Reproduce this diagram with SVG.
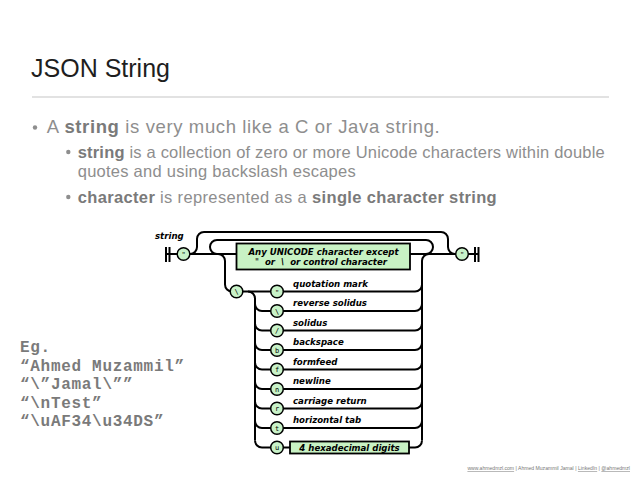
<svg xmlns="http://www.w3.org/2000/svg" width="638" height="479" viewBox="0 0 638 479">
<style>
.slide{font-family:"Liberation Sans",Arial,sans-serif;}
.title{font-size:25.5px;fill:#1e1e1e;}
.txt{font-size:16.5px;fill:#8e8e8e;}
.t1{font-size:18.5px;}
.b{font-weight:bold;fill:#7a7a7a;}
.dot{fill:#8e8e8e;}
.ex{font-family:"Liberation Mono","Courier New",monospace;font-weight:bold;font-size:16px;letter-spacing:0.7px;fill:#7a7a7a;}
.rr{fill:none;stroke:#000;stroke-width:2;stroke-linejoin:round;}
.bar{stroke:#000;stroke-width:2;}
.term{fill:#c8f2c8;stroke:#000;stroke-width:1.5;}
.box{fill:#c8f2c4;stroke:#000;stroke-width:1.8;}
.lbl{font-family:"DejaVu Sans",Verdana,sans-serif;font-weight:bold;font-style:italic;font-size:8.6px;fill:#000;}
.ch{font-family:"DejaVu Sans Mono",monospace;font-size:7px;fill:#000;text-anchor:middle;}
.foot{font-family:"Liberation Sans",Arial,sans-serif;font-size:5.1px;fill:#777;}
</style>

<g id="header" class="slide">
<text class="title" x="31" y="77" textLength="139" lengthAdjust="spacingAndGlyphs">JSON String</text>
<line x1="32" y1="97" x2="609" y2="97" stroke="#d9d9d9" stroke-width="1.5"/>
</g>

<g id="bullets" class="slide">
<circle class="dot" cx="35" cy="127.5" r="2.2"/>
<text class="txt t1" x="46.7" y="133" textLength="393" lengthAdjust="spacing">A <tspan class="b">string</tspan> is very much like a C or Java string.</text>
<circle class="dot" cx="68.3" cy="152" r="2.2"/>
<text class="txt" x="77.7" y="157.5" textLength="527" lengthAdjust="spacing"><tspan class="b">string</tspan> is a collection of zero or more Unicode characters within double</text>
<text class="txt" x="77.7" y="177" textLength="278" lengthAdjust="spacing">quotes and using backslash escapes</text>
<circle class="dot" cx="68.3" cy="197" r="2.2"/>
<text class="txt" x="77.7" y="202.5" textLength="419" lengthAdjust="spacing"><tspan class="b">character</tspan> is represented as a <tspan class="b">single character string</tspan></text>
</g>

<g id="examples">
<text class="ex" x="20" y="352">Eg.</text>
<text class="ex" x="20" y="370.5">“Ahmed Muzammil”</text>
<text class="ex" x="20" y="389">“\”Jamal\””</text>
<text class="ex" x="20" y="407.5">“\nTest”</text>
<text class="ex" x="20" y="426">“\uAF34\u34DS”</text>
</g>

<g id="connectors">
<line class="bar" x1="166" y1="247" x2="166" y2="262"/>
<line class="bar" x1="169.5" y1="247" x2="169.5" y2="262"/>
<line class="bar" x1="475" y1="247" x2="475" y2="262"/>
<line class="bar" x1="478.5" y1="247" x2="478.5" y2="262"/>
<path class="rr" d="M166 254 H178 M189 254 H237 M410 254 H456 M468 254 H478.5"/>
<path class="rr" d="M190 254 A7 7 0 0 0 197 247 V239 A7 7 0 0 1 204 232 H441 A7 7 0 0 1 448 239 V247 A7 7 0 0 0 455 254"/>
<path class="rr" d="M217 254 A7 7 0 0 1 210 247 A7 7 0 0 1 217 240 H426 A7 7 0 0 1 433 247 A7 7 0 0 1 426 254"/>
<path class="rr" d="M218 254 A7 7 0 0 1 225 261 V284.5 A7 7 0 0 0 232 291.5 H234"/>
<path class="rr" d="M243 291.5 H415 A7 7 0 0 0 422 284.5 V261 A7 7 0 0 1 429 254"/>
<path class="rr" d="M248 291.5 A7 7 0 0 1 255 298.5 V440.5"/>
<path class="rr" d="M422 440.5 V284.5"/>
<path class="rr" d="M255 304 A7 7 0 0 0 262 311 H415 A7 7 0 0 0 422 304"/>
<path class="rr" d="M255 323.5 A7 7 0 0 0 262 330.5 H415 A7 7 0 0 0 422 323.5"/>
<path class="rr" d="M255 343 A7 7 0 0 0 262 350 H415 A7 7 0 0 0 422 343"/>
<path class="rr" d="M255 362.5 A7 7 0 0 0 262 369.5 H415 A7 7 0 0 0 422 362.5"/>
<path class="rr" d="M255 382 A7 7 0 0 0 262 389 H415 A7 7 0 0 0 422 382"/>
<path class="rr" d="M255 401.5 A7 7 0 0 0 262 408.5 H415 A7 7 0 0 0 422 401.5"/>
<path class="rr" d="M255 421 A7 7 0 0 0 262 428 H415 A7 7 0 0 0 422 421"/>
<path class="rr" d="M255 440.5 A7 7 0 0 0 262 447.5 H415 A7 7 0 0 0 422 440.5"/>
</g>

<text id="diagram-name" class="lbl" x="155" y="239">string</text>

<g id="start-quote"><circle class="term" cx="183.5" cy="254" r="6.3"/><text class="ch" x="183.5" y="257">"</text></g>
<g id="end-quote"><circle class="term" cx="462" cy="254" r="6.3"/><text class="ch" x="462" y="257">"</text></g>

<g id="any-char">
<rect class="box" x="236.5" y="243.5" width="173.5" height="26"/>
<text class="lbl" x="323.5" y="254.5" text-anchor="middle">Any UNICODE character except</text>
<text class="lbl" x="321" y="265" text-anchor="middle" xml:space="preserve"><tspan font-weight="normal" font-style="normal">"</tspan>  or  \  or control character</text>
</g>

<g id="backslash"><circle class="term" cx="236.5" cy="291.5" r="6.3"/><text class="ch" x="236.5" y="294">\</text></g>

<g id="esc-quote"><circle class="term" cx="277" cy="291.5" r="6.3"/><text class="ch" x="277" y="295">"</text><text class="lbl" x="293" y="286.5">quotation mark</text></g>
<g id="esc-backslash"><circle class="term" cx="277" cy="311" r="6.3"/><text class="ch" x="277" y="313.5">\</text><text class="lbl" x="293" y="306">reverse solidus</text></g>
<g id="esc-slash"><circle class="term" cx="277" cy="330.5" r="6.3"/><text class="ch" x="277" y="333">/</text><text class="lbl" x="293" y="325.5">solidus</text></g>
<g id="esc-b"><circle class="term" cx="277" cy="350" r="6.3"/><text class="ch" x="277" y="352.5">b</text><text class="lbl" x="293" y="345">backspace</text></g>
<g id="esc-f"><circle class="term" cx="277" cy="369.5" r="6.3"/><text class="ch" x="277" y="372">f</text><text class="lbl" x="293" y="364.5">formfeed</text></g>
<g id="esc-n"><circle class="term" cx="277" cy="389" r="6.3"/><text class="ch" x="277" y="391.5">n</text><text class="lbl" x="293" y="384">newline</text></g>
<g id="esc-r"><circle class="term" cx="277" cy="408.5" r="6.3"/><text class="ch" x="277" y="411">r</text><text class="lbl" x="293" y="403.5">carriage return</text></g>
<g id="esc-t"><circle class="term" cx="277" cy="428" r="6.3"/><text class="ch" x="277" y="430.5">t</text><text class="lbl" x="293" y="423">horizontal tab</text></g>
<g id="esc-u"><circle class="term" cx="277" cy="447.5" r="6.3"/><text class="ch" x="277" y="450">u</text>
<rect class="box" x="290" y="441.5" width="119" height="12"/>
<text class="lbl" x="349.5" y="450.5" text-anchor="middle">4 hexadecimal digits</text></g>

<g id="footer">
<text class="foot" x="630" y="470" text-anchor="end"><tspan text-decoration="underline">www.ahmedmzl.com</tspan> | Ahmed Muzammil Jamal | <tspan text-decoration="underline">LinkedIn</tspan> | <tspan text-decoration="underline">@ahmedmzl</tspan></text>
</g>
</svg>
